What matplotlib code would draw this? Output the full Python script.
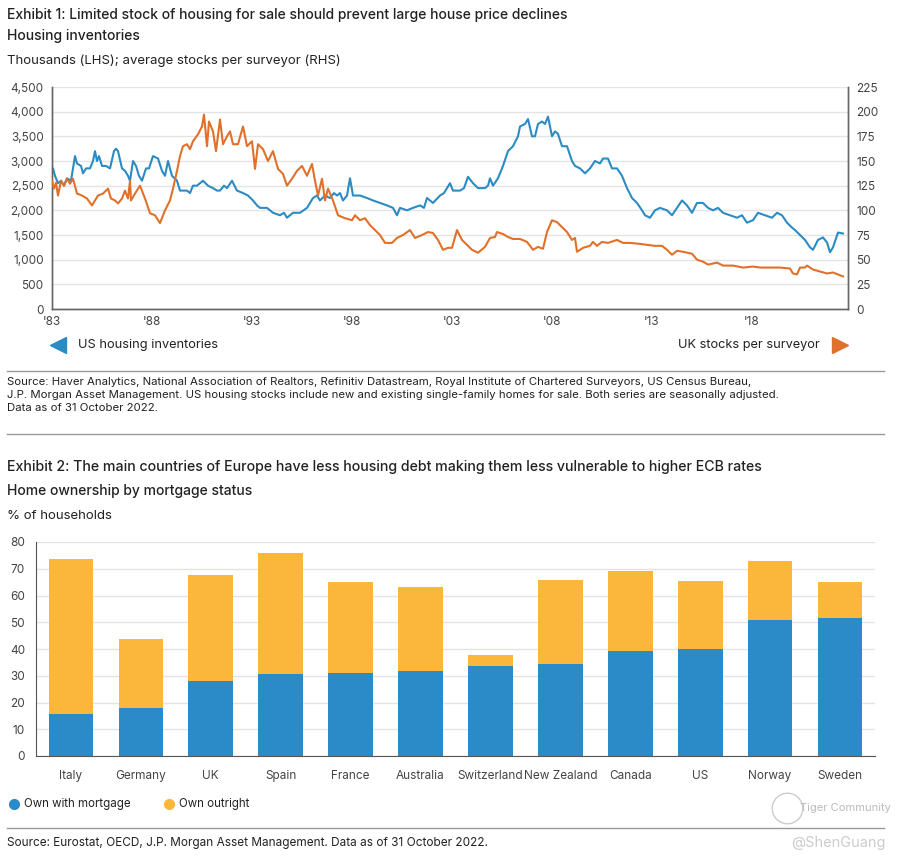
import numpy as np
import matplotlib
matplotlib.use('Agg')
import matplotlib.pyplot as plt
from matplotlib.lines import Line2D
from matplotlib.ticker import FuncFormatter

#==============================================================================
# data

# US housing inventories, thousands (LHS)
us_pts = [(1983.0, 2750), (1983.05, 2850), (1983.15, 2700), (1983.3, 2550), (1983.45, 2600),
          (1983.6, 2500), (1983.75, 2650), (1983.95, 2600), (1984.15, 3100), (1984.25, 2950),
          (1984.45, 2900), (1984.55, 2750), (1984.7, 2850), (1984.9, 2850), (1985.05, 3000),
          (1985.15, 3200), (1985.25, 3000), (1985.35, 3100), (1985.5, 2900), (1985.7, 2900),
          (1985.9, 2850), (1986.1, 3200), (1986.2, 3250), (1986.3, 3200), (1986.5, 2850),
          (1986.65, 2800), (1986.8, 2700), (1986.9, 2600), (1987.05, 3000), (1987.2, 2900),
          (1987.35, 2700), (1987.5, 2600), (1987.7, 2850), (1987.85, 2850), (1988.05, 3100),
          (1988.3, 3050), (1988.5, 2800), (1988.65, 2700), (1988.8, 3000), (1989.0, 2700),
          (1989.25, 2600), (1989.4, 2400), (1989.6, 2400), (1989.75, 2400), (1989.9, 2350),
          (1990.05, 2500), (1990.25, 2500), (1990.4, 2550), (1990.55, 2600), (1990.8, 2500),
          (1991.05, 2450), (1991.25, 2400), (1991.4, 2400), (1991.6, 2500), (1991.75, 2450),
          (1992.0, 2600), (1992.25, 2400), (1992.55, 2350), (1992.8, 2300), (1993.05, 2200),
          (1993.25, 2100), (1993.4, 2050), (1993.75, 2050), (1994.05, 1950), (1994.4, 1900),
          (1994.6, 1950), (1994.75, 1850), (1995.05, 1950), (1995.4, 1950), (1995.75, 2050),
          (1996.05, 2250), (1996.25, 2300), (1996.4, 2200), (1996.65, 2300), (1996.9, 2250),
          (1997.1, 2350), (1997.25, 2300), (1997.4, 2350), (1997.55, 2200), (1997.75, 2300),
          (1997.9, 2650), (1998.05, 2300), (1998.4, 2300), (1998.75, 2250), (1999.05, 2200),
          (1999.4, 2150), (1999.75, 2100), (2000.05, 2050), (2000.25, 1900), (2000.4, 2050),
          (2000.75, 2000), (2001.05, 2050), (2001.4, 2100), (2001.6, 2050), (2001.75, 2250),
          (2002.05, 2150), (2002.4, 2300), (2002.6, 2350), (2002.9, 2550), (2003.05, 2400),
          (2003.4, 2400), (2003.6, 2450), (2003.8, 2680), (2004.05, 2550), (2004.3, 2450),
          (2004.65, 2450), (2004.8, 2500), (2004.9, 2650), (2005.05, 2500), (2005.3, 2650),
          (2005.55, 2900), (2005.8, 3200), (2006.05, 3300), (2006.3, 3500), (2006.4, 3700),
          (2006.65, 3750), (2006.8, 3850), (2007.0, 3500), (2007.15, 3500), (2007.3, 3750),
          (2007.5, 3800), (2007.65, 3750), (2007.8, 3900), (2008.0, 3500), (2008.15, 3600),
          (2008.3, 3550), (2008.5, 3300), (2008.75, 3300), (2009.0, 3000), (2009.15, 2900),
          (2009.4, 2850), (2009.65, 2750), (2009.9, 2850), (2010.15, 3000), (2010.4, 2950),
          (2010.55, 3050), (2010.8, 3050), (2011.0, 2850), (2011.25, 2850), (2011.5, 2700),
          (2011.75, 2450), (2012.0, 2250), (2012.25, 2150), (2012.5, 2000), (2012.65, 1900),
          (2012.9, 1850), (2013.15, 2000), (2013.4, 2050), (2013.75, 2000), (2014.0, 1900),
          (2014.25, 2050), (2014.5, 2200), (2014.75, 2100), (2015.0, 1950), (2015.25, 2150),
          (2015.55, 2150), (2015.8, 2050), (2016.05, 2000), (2016.3, 2050), (2016.55, 1950),
          (2016.9, 1900), (2017.25, 1850), (2017.5, 1900), (2017.75, 1750), (2018.05, 1800),
          (2018.3, 1950), (2018.65, 1900), (2019.0, 1850), (2019.25, 1950), (2019.5, 1900),
          (2019.75, 1750), (2020.0, 1650), (2020.15, 1600), (2020.4, 1500), (2020.65, 1400),
          (2020.9, 1250), (2021.05, 1200), (2021.3, 1400), (2021.55, 1450), (2021.75, 1350),
          (2021.9, 1150), (2022.05, 1250), (2022.3, 1550), (2022.55, 1530)]

# UK average stocks per surveyor (RHS)
uk_pts = [(1983.0, 130), (1983.1, 122), (1983.2, 128), (1983.3, 115), (1983.45, 130),
          (1983.6, 125), (1983.75, 132), (1983.9, 127), (1984.05, 132), (1984.25, 117),
          (1984.5, 115), (1984.75, 112), (1985.0, 105), (1985.15, 110), (1985.3, 115),
          (1985.55, 117), (1985.8, 122), (1985.95, 112), (1986.15, 110), (1986.3, 107),
          (1986.5, 112), (1986.65, 120), (1986.8, 112), (1986.9, 130), (1986.95, 110),
          (1987.15, 117), (1987.4, 125), (1987.65, 112), (1987.9, 97), (1988.15, 95),
          (1988.4, 87), (1988.65, 100), (1988.9, 110), (1989.05, 122), (1989.25, 140),
          (1989.4, 155), (1989.55, 165), (1989.75, 167), (1989.9, 162), (1990.05, 170),
          (1990.3, 177), (1990.5, 185), (1990.6, 197), (1990.75, 165), (1990.85, 190),
          (1991.05, 180), (1991.2, 160), (1991.4, 192), (1991.55, 167), (1991.75, 175),
          (1991.9, 180), (1992.05, 167), (1992.3, 167), (1992.55, 185), (1992.75, 165),
          (1993.0, 170), (1993.15, 142), (1993.3, 167), (1993.55, 162), (1993.8, 150),
          (1994.05, 160), (1994.3, 142), (1994.55, 137), (1994.75, 125), (1995.0, 132),
          (1995.25, 140), (1995.5, 145), (1995.75, 135), (1996.0, 147), (1996.15, 130),
          (1996.3, 115), (1996.5, 132), (1996.65, 110), (1996.8, 122), (1997.05, 110),
          (1997.3, 95), (1997.65, 92), (1998.0, 90), (1998.15, 95), (1998.4, 90),
          (1998.65, 92), (1998.9, 85), (1999.15, 80), (1999.4, 75), (1999.65, 67),
          (2000.0, 67), (2000.25, 72), (2000.55, 75), (2000.9, 80), (2001.15, 72),
          (2001.5, 75), (2001.8, 78), (2002.05, 77), (2002.3, 70), (2002.55, 60),
          (2002.8, 62), (2003.0, 62), (2003.25, 80), (2003.5, 70), (2003.75, 65),
          (2004.0, 60), (2004.3, 57), (2004.65, 63), (2004.9, 72), (2005.15, 73),
          (2005.25, 78), (2005.55, 76), (2005.8, 73), (2006.05, 71), (2006.4, 71),
          (2006.75, 68), (2007.05, 60), (2007.3, 63), (2007.55, 61), (2007.75, 78),
          (2008.0, 90), (2008.25, 88), (2008.5, 83), (2008.75, 78), (2009.0, 70),
          (2009.15, 72), (2009.25, 58), (2009.55, 62), (2009.9, 64), (2010.05, 68),
          (2010.25, 64), (2010.5, 68), (2010.8, 67), (2011.25, 70), (2011.55, 67),
          (2011.9, 67), (2012.4, 66), (2012.75, 65), (2013.15, 64), (2013.5, 64),
          (2013.75, 60), (2014.0, 55), (2014.25, 59), (2014.55, 58), (2015.0, 56),
          (2015.25, 50), (2015.55, 48), (2015.8, 45), (2016.25, 47), (2016.55, 44),
          (2017.05, 44), (2017.55, 42), (2018.05, 43), (2018.4, 42), (2018.9, 42),
          (2019.4, 42), (2019.9, 41), (2020.05, 36), (2020.25, 35), (2020.4, 42),
          (2020.65, 42), (2020.75, 44), (2021.05, 40), (2021.4, 38), (2021.75, 36),
          (2022.05, 37), (2022.3, 35), (2022.55, 33)]

line_ticks = [1983, 1988, 1993, 1998, 2003, 2008, 2013, 2018]
line_tick_labels = ["'83", "'88", "'93", "'98", "'03", "'08", "'13", "'18"]

countries = ['Italy', 'Germany', 'UK', 'Spain', 'France', 'Australia', 'Switzerland',
             'New Zealand', 'Canada', 'US', 'Norway', 'Sweden']
own_mortgage = [15.8, 18.1, 28.0, 30.7, 30.9, 31.8, 33.5, 34.4, 39.4, 40.0, 51.0, 51.7]
own_total = [73.8, 43.7, 67.5, 76.0, 64.9, 63.2, 37.9, 65.7, 69.2, 65.4, 73.0, 65.2]
own_outright = [t - m for t, m in zip(own_total, own_mortgage)]

#==============================================================================

W, H = 907, 860
fx = lambda x: x / W
fy = lambda y: 1 - y / H

plt.rcParams['font.family'] = ['Inter', 'DejaVu Sans']

c_blue = '#2b8cc4'
c_orange = '#e0712b'
c_bar_blue = '#2a8bc8'
c_bar_yel = '#fbb73c'
c_grid = '#e4e4e4'
c_txt = '#222222'
c_tick = '#444444'

fig = plt.figure(figsize=(W / 100, H / 100), dpi=100)

# ---------- texts, exhibit 1
fig.text(fx(7), fy(15), 'Exhibit 1: Limited stock of housing for sale should prevent large house price declines',
         fontsize=10, fontweight='medium', color=c_txt, va='center')
fig.text(fx(7), fy(36), 'Housing inventories', fontsize=10, fontweight='medium', color=c_txt, va='center')
fig.text(fx(7), fy(61), 'Thousands (LHS); average stocks per surveyor (RHS)', fontsize=9.5,
         color=c_txt, va='center')

# ---------- line chart
ax1 = fig.add_axes([fx(52), fy(309), fx(848) - fx(52), fy(87) - fy(309)])
ax2 = ax1.twinx()

us_year, us_val = zip(*us_pts)
uk_year, uk_val = zip(*uk_pts)
ax1.plot(us_year, us_val, color=c_blue, lw=1.5, zorder=3)
ax2.plot(uk_year, uk_val, color=c_orange, lw=1.5, zorder=3)

ax1.set_xlim(1983.0, 2022.8)
ax1.set_ylim(0, 4500)
ax2.set_ylim(0, 225)
ax1.set_yticks(np.arange(0, 4501, 500))
ax2.set_yticks(np.arange(0, 226, 25))
ax1.yaxis.set_major_formatter(FuncFormatter(lambda v, p: '{:,.0f}'.format(v)))
ax1.set_xticks(line_ticks)
ax1.set_xticklabels(line_tick_labels)
ax1.grid(axis='y', color=c_grid, lw=1)
ax1.set_axisbelow(True)
for ax in (ax1, ax2):
    ax.tick_params(length=0, labelsize=8.5, labelcolor=c_tick)
    ax.spines['top'].set_visible(False)
    for s in ('left', 'right', 'bottom'):
        ax.spines[s].set_color('#666666')
        ax.spines[s].set_linewidth(1)
ax1.tick_params(axis='y', pad=6)
ax2.tick_params(axis='y', pad=6)
ax1.tick_params(axis='x', pad=5)

# legend arrows
fig.add_artist(Line2D([fx(58)], [fy(345)], marker='<', markersize=12, color=c_blue, lw=0))
fig.text(fx(78), fy(345), 'US housing inventories', fontsize=9.2, color=c_txt, va='center')
fig.add_artist(Line2D([fx(840)], [fy(345)], marker='>', markersize=12, color=c_orange, lw=0))
fig.text(fx(820), fy(345), 'UK stocks per surveyor', fontsize=9.2, color=c_txt, va='center', ha='right')

fig.add_artist(Line2D([fx(7), fx(884)], [fy(371), fy(371)], color='#999999', lw=1))
src1 = ('Source: Haver Analytics, National Association of Realtors, Refinitiv Datastream, Royal Institute of Chartered Surveyors, US Census Bureau,\n'
        'J.P. Morgan Asset Management. US housing stocks include new and existing single-family homes for sale. Both series are seasonally adjusted.\n'
        'Data as of 31 October 2022.')
fig.text(fx(7), fy(377), src1, fontsize=8.2, color=c_txt, va='top', linespacing=1.4)
fig.add_artist(Line2D([fx(7), fx(884)], [fy(434), fy(434)], color='#999999', lw=1))

# ---------- texts, exhibit 2
fig.text(fx(7), fy(467), 'Exhibit 2: The main countries of Europe have less housing debt making them less vulnerable to higher ECB rates',
         fontsize=10.2, fontweight='medium', color=c_txt, va='center')
fig.text(fx(7), fy(491), 'Home ownership by mortgage status', fontsize=10, fontweight='medium',
         color=c_txt, va='center')
fig.text(fx(7), fy(516), '% of households', fontsize=9.5, color=c_txt, va='center')

# ---------- bar chart
ax3 = fig.add_axes([fx(36), fy(756), fx(875) - fx(36), fy(542) - fy(756)])
xpos = np.arange(len(countries))
ax3.bar(xpos, own_mortgage, width=0.64, color=c_bar_blue, zorder=3)
ax3.bar(xpos, own_outright, bottom=own_mortgage, width=0.64, color=c_bar_yel, zorder=3)
ax3.set_xlim(-0.5, 11.5)
ax3.set_ylim(0, 80)
ax3.set_yticks(np.arange(0, 81, 10))
ax3.set_xticks(xpos)
ax3.set_xticklabels(countries)
ax3.grid(axis='y', color=c_grid, lw=1)
ax3.set_axisbelow(True)
ax3.tick_params(length=0, labelsize=8.5, labelcolor=c_tick)
ax3.tick_params(axis='y', pad=8)
ax3.tick_params(axis='x', pad=10)
for s in ('top', 'right'):
    ax3.spines[s].set_visible(False)
for s in ('left', 'bottom'):
    ax3.spines[s].set_color('#555555')

fig.add_artist(Line2D([fx(14)], [fy(804)], marker='o', markersize=7, color=c_bar_blue, lw=0))
fig.text(fx(24), fy(804), 'Own with mortgage', fontsize=8.3, color=c_txt, va='center')
fig.add_artist(Line2D([fx(169)], [fy(804)], marker='o', markersize=7, color=c_bar_yel, lw=0))
fig.text(fx(179), fy(804), 'Own outright', fontsize=8.3, color=c_txt, va='center')

fig.add_artist(Line2D([fx(7), fx(884)], [fy(828), fy(828)], color='#999999', lw=1))
fig.text(fx(7), fy(843), 'Source: Eurostat, OECD, J.P. Morgan Asset Management. Data as of 31 October 2022.',
         fontsize=8.5, color=c_txt, va='center')

# watermark
fig.add_artist(Line2D([fx(787)], [fy(808)], marker='o', markersize=22, markerfacecolor='none',
                      markeredgecolor='#cccccc', markeredgewidth=1, lw=0))
fig.text(fx(800), fy(808), 'Tiger Community', fontsize=8, color='#bbbbbb', va='center')
fig.text(fx(886), fy(843), '@ShenGuang', fontsize=10.5, color='#cccccc', va='center', ha='right')

fig.savefig('out.png', dpi=100)
